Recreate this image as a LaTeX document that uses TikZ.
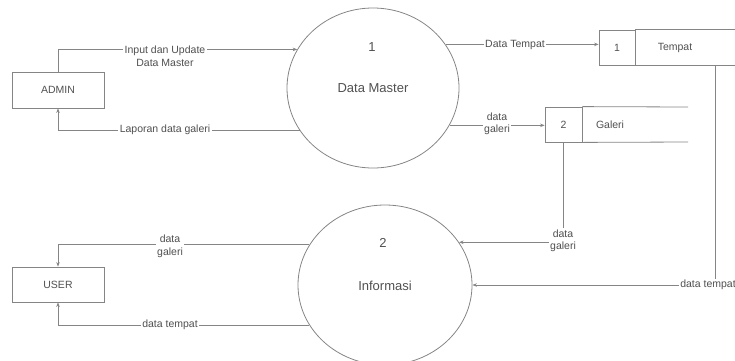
\documentclass[tikz,border=0pt]{standalone}
\usepackage{fontspec}
\setmainfont{Liberation Sans}
\usetikzlibrary{shapes.geometric,arrows.meta}
\definecolor{ln}{HTML}{858585}
\definecolor{tx}{HTML}{505050}
\tikzset{
  proc/.style={ellipse,draw=ln,line width=0.8pt,minimum width=172pt,minimum height=160pt,inner sep=0pt},
  ent/.style={rectangle,draw=ln,line width=0.8pt,minimum width=92pt,minimum height=36pt,inner sep=0pt,text=tx,font=\fontsize{10.5}{12}\selectfont},
  cell/.style={rectangle,draw=ln,line width=0.8pt,minimum width=36pt,minimum height=35pt,inner sep=0pt,text=tx,font=\fontsize{10.5}{12}\selectfont},
  big/.style={text=tx,font=\fontsize{13}{15}\selectfont,inner sep=0pt},
  lbl/.style={text=tx,fill=white,font=\fontsize{10.5}{12.5}\selectfont,inner sep=1.5pt,align=center},
  stxt/.style={text=tx,font=\fontsize{10.5}{12}\selectfont,inner sep=0pt},
  flow/.style={draw=ln,line width=0.7pt,-{Stealth[length=4.5pt,width=3.5pt]}},
  plain/.style={draw=ln,line width=0.8pt}
}
\begin{document}
\begin{tikzpicture}[x=1pt,y=-1pt]
\useasboundingbox (0,0) rectangle (735,360);
% processes
\node[proc] (p1) at (373,88) {};
\node[big] (p1n) at (372,47) {1};
\node[big] (p1t) at (373,88) {Data Master};
\node[proc,minimum width=174pt] (p2) at (385,285) {};
\node[big] (p2n) at (383,243) {2};
\node[big] (p2t) at (385,286) {Informasi};
% entities
\node[ent] (admin) at (58,90) {ADMIN};
\node[ent,minimum height=35pt] (user) at (58,284.5) {USER};
% data stores
\node[cell] (s1) at (617,47.5) {1};
\node[stxt] (s1t) at (675,47.5) {Tempat};
\draw[plain] (s1.north east) -- ++(110,0);
\draw[plain] (s1.south east) -- ++(110,0);
\node[cell,minimum width=37pt] (s2) at (563.5,124.5) {2};
\node[stxt] (s2t) at (610,124.5) {Galeri};
\draw[plain] (s2.north east) -- (688,107);
\draw[plain] (s2.south east) -- (688,142);
\coordinate (t1) at (715,65);
% flows
\draw[flow] (admin.north) |- (p1.153);
\node[lbl] (l1) at (165,56) {Input dan Update\\Data Master};
\draw[flow] (p1.210) -| (admin.south);
\node[lbl] (l2) at (165,130) {Laporan data galeri};
\draw[flow] (p1.31) -- (p1.31 -| s1.west);
\node[lbl] (l3) at (515,45) {Data Tempat};
\draw[flow] (p1.334) -- (p1.334 -| s2.west);
\node[lbl] (l4) at (497,124) {data\\galeri};
\draw[flow] (s2.south) |- (p2.30);
\node[lbl] (l5) at (563,241) {data\\galeri};
\draw[flow] (t1) |- (p2.0);
\node[lbl] (l6) at (708,285) {data tempat};
\draw[flow] (p2.152) -| (user.north);
\node[lbl] (l7) at (170,246.5) {data\\galeri};
\draw[flow] (p2.208) -| (user.south);
\node[lbl] (l8) at (170,325) {data tempat};
\end{tikzpicture}
\end{document}
